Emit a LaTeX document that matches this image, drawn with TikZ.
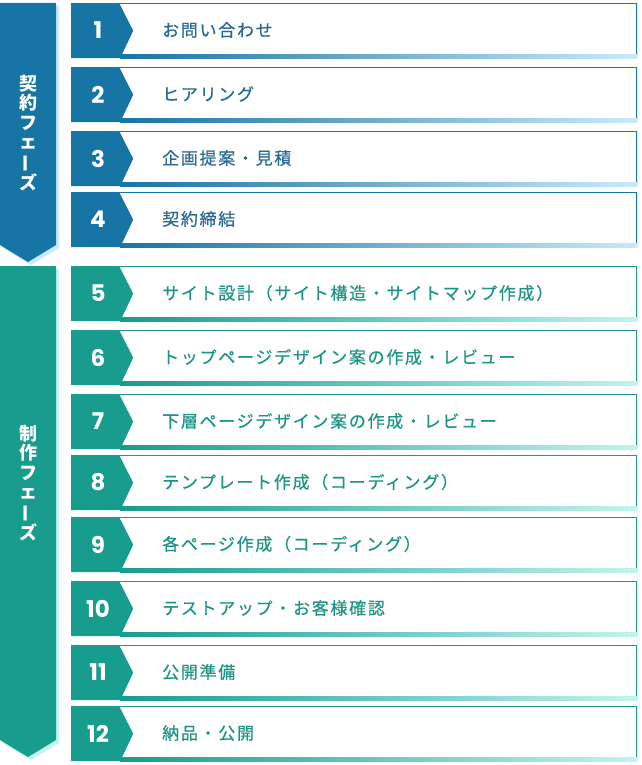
\documentclass[tikz,border=0pt]{standalone}
\usepackage{graphicx}
\usepackage{fontspec}
\setmainfont{Noto Sans CJK JP}
\newfontfamily\jpfont[LetterSpace=10, FakeBold=0.6]{Noto Sans CJK JP}
\newfontfamily\numfont{Poppins}
\usetikzlibrary{calc, positioning}

\definecolor{bluemain}{HTML}{1775A6}
\definecolor{bluepale}{HTML}{C8EAFA}
\definecolor{bluetext}{HTML}{2A6A92}
\definecolor{greenmain}{HTML}{179C8D}
\definecolor{greenpale}{HTML}{C0F5EE}
\definecolor{greentext}{HTML}{1E9486}

\begin{document}
\begin{tikzpicture}[x=1pt, y=-1pt]
				\tikzstyle{rowbox} = [minimum width=566pt, minimum height=55pt, inner sep=0pt, anchor=north west, path picture={
					\fill[#1main] (path picture bounding box.north west) -- ++(48pt,0pt) -- ++(14pt,-27.5pt) -- ($(path picture bounding box.south west)+(49pt,0pt)$) -- (path picture bounding box.south west) -- cycle;
					\draw[#1main, line width=2pt] (path picture bounding box.north west) -- (path picture bounding box.north east) -- (path picture bounding box.south east);
					\fill[left color=#1main, right color=#1pale] ($(path picture bounding box.south west)+(49pt,0pt)$) rectangle ($(path picture bounding box.south east)+(0pt,4pt)$);
				}]
				\tikzstyle{stepnum} = [text=white, inner sep=0pt, font=\numfont\bfseries\fontsize{23}{23}\selectfont]
				\tikzstyle{steptitle} = [text=#1text, inner sep=0pt, anchor=west, font=\jpfont\fontsize{17}{17}\selectfont]
				\tikzstyle{phasetext} = [text=white, inner sep=0pt, align=center, font=\bfseries\fontsize{18}{19.5}\selectfont]
				
				\useasboundingbox (0,0) rectangle (641,765);
				
				% phase bars
				\fill[bluepale] (3,6) -- (59,6) -- (59,248) -- (31,265) -- (3,248) -- cycle;
				\fill[bluemain] (0,3) -- (56,3) -- (56,245) -- (28,262) -- (0,245) -- cycle;
				\fill[greenpale] (3,269) -- (59,269) -- (59,743) -- (31,760) -- (3,743) -- cycle;
				\fill[greenmain] (0,266) -- (56,266) -- (56,740) -- (28,757) -- (0,740) -- cycle;
				\node[phasetext] at (28,133) (p1) {契\\約\\フ\\ェ\\\rotatebox[origin=c]{90}{ー}\\ズ};
				\node[phasetext] at (28,483) (p2) {制\\作\\フ\\ェ\\\rotatebox[origin=c]{90}{ー}\\ズ};
				
				% steps
				\node[rowbox=blue] 	at (71, 3) 		(r1) 	{};
				\node[rowbox=blue] 	at (71, 67) 	(r2) 	{};
				\node[rowbox=blue] 	at (71, 131) 	(r3) 	{};
				\node[rowbox=blue] 	at (71, 192) 	(r4) 	{};
				\node[rowbox=green] at (71, 266) 	(r5) 	{};
				\node[rowbox=green] at (71, 330) 	(r6) 	{};
				\node[rowbox=green] at (71, 394) 	(r7) 	{};
				\node[rowbox=green] at (71, 455) 	(r8) 	{};
				\node[rowbox=green] at (71, 517) 	(r9) 	{};
				\node[rowbox=green] at (71, 581) 	(r10) 	{};
				\node[rowbox=green] at (71, 645) 	(r11) 	{};
				\node[rowbox=green] at (71, 706) 	(r12) 	{};
				
				\node[stepnum] 	at (98, 30.5) 	(n1) 	{1};
				\node[stepnum] 	at (98, 94.5) 	(n2) 	{2};
				\node[stepnum] 	at (98, 158.5) 	(n3) 	{3};
				\node[stepnum] 	at (98, 219.5) 	(n4) 	{4};
				\node[stepnum] 	at (98, 293.5) 	(n5) 	{5};
				\node[stepnum] 	at (98, 357.5) 	(n6) 	{6};
				\node[stepnum] 	at (98, 421.5) 	(n7) 	{7};
				\node[stepnum] 	at (98, 482.5) 	(n8) 	{8};
				\node[stepnum] 	at (98, 544.5) 	(n9) 	{9};
				\node[stepnum] 	at (98, 608.5) 	(n10) 	{10};
				\node[stepnum] 	at (98, 672.5) 	(n11) 	{11};
				\node[stepnum] 	at (98, 733.5) 	(n12) 	{12};
				
				\node[steptitle=blue] 	at (162, 30) 	(t1) 	{お問い合わせ};
				\node[steptitle=blue] 	at (162, 94) 	(t2) 	{ヒアリング};
				\node[steptitle=blue] 	at (162, 158) 	(t3) 	{企画提案・見積};
				\node[steptitle=blue] 	at (162, 219) 	(t4) 	{契約締結};
				\node[steptitle=green] 	at (162, 293) 	(t5) 	{サイト設計（サイト構造・サイトマップ作成）};
				\node[steptitle=green] 	at (162, 357) 	(t6) 	{トップページデザイン案の作成・レビュー};
				\node[steptitle=green] 	at (162, 421) 	(t7) 	{下層ページデザイン案の作成・レビュー};
				\node[steptitle=green] 	at (162, 482) 	(t8) 	{テンプレート作成（コーディング）};
				\node[steptitle=green] 	at (162, 544) 	(t9) 	{各ページ作成（コーディング）};
				\node[steptitle=green] 	at (162, 608) 	(t10) 	{テストアップ・お客様確認};
				\node[steptitle=green] 	at (162, 672) 	(t11) 	{公開準備};
				\node[steptitle=green] 	at (162, 733) 	(t12) 	{納品・公開};
\end{tikzpicture}
\end{document}
